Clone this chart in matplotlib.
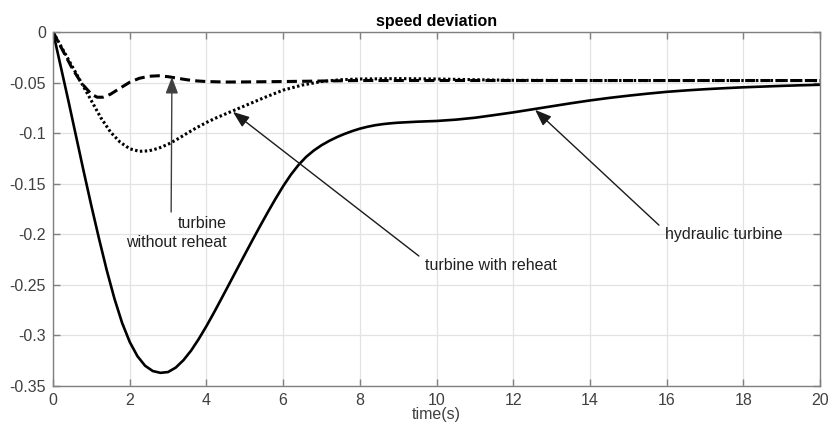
import matplotlib
matplotlib.use("Agg")
import matplotlib.pyplot as plt

plt.rcParams['font.family'] = ['Liberation Sans', 'DejaVu Sans']
plt.rcParams['axes.unicode_minus'] = False

# hydraulic turbine (solid)
t_hyd = [0.0, 0.2, 0.4, 0.6, 0.8, 1.0, 1.2, 1.4, 1.6, 1.8, 2.0, 2.2, 2.4, 2.6, 2.8,
         3.0, 3.2, 3.4, 3.6, 3.8, 4.0, 4.2, 4.4, 4.6, 4.8, 5.0, 5.2, 5.4, 5.6, 5.8,
         6.0, 6.2, 6.4, 6.6, 6.8, 7.0, 7.2, 7.4, 7.6, 7.8, 8.0, 8.2, 8.4, 8.6, 8.8,
         9.0, 9.5, 10.0, 10.5, 11.0, 11.5, 12.0, 12.5, 13.0, 13.5, 14.0, 14.5, 15.0,
         15.5, 16.0, 16.5, 17.0, 17.5, 18.0, 18.5, 19.0, 19.5, 20.0]
y_hyd = [0.0, -0.034, -0.068, -0.103, -0.138, -0.172, -0.2045, -0.2355, -0.2635, -0.2875,
         -0.3065, -0.3205, -0.3300, -0.3352, -0.3370,
         -0.3362, -0.3318, -0.3245, -0.3150, -0.3035, -0.2908, -0.2772, -0.2630, -0.2487,
         -0.2343, -0.2200, -0.2058, -0.1918, -0.1782, -0.1650,
         -0.1525, -0.1412, -0.1315, -0.1235, -0.1172, -0.1120, -0.1077, -0.1040, -0.1008,
         -0.0980, -0.0956, -0.0937, -0.0922, -0.0911, -0.0903,
         -0.0897, -0.0887, -0.0880, -0.0867, -0.0848, -0.0822, -0.0795, -0.0765, -0.0735,
         -0.0705, -0.0677, -0.0652, -0.0630,
         -0.0610, -0.0592, -0.0578, -0.0566, -0.0556, -0.0547, -0.0540, -0.0533, -0.0527,
         -0.0522]

# turbine without reheat (dashed)
t_nr = [0, 0.25, 0.5, 0.75, 1.0, 1.15, 1.3, 1.5, 1.75, 2.0, 2.25, 2.5, 2.75, 3.0, 3.25,
        3.5, 3.75, 4.0, 4.5, 5, 6, 7, 8, 10, 12, 14, 16, 18, 20]
y_nr = [0, -0.018, -0.036, -0.051, -0.0615, -0.0645, -0.0645, -0.0615, -0.0555, -0.0497,
        -0.0458, -0.0438, -0.0433, -0.0442, -0.0458, -0.0473, -0.0484, -0.0490, -0.0495,
        -0.0494, -0.0490, -0.0485, -0.0480, -0.0480, -0.0480, -0.0480, -0.0480, -0.0480,
        -0.0480]

# turbine with reheat (dotted)
t_rh = [0, 0.25, 0.5, 0.75, 1.0, 1.25, 1.5, 1.75, 2.0, 2.25, 2.5, 2.75, 3.0, 3.25, 3.5,
        3.75, 4.0, 4.25, 4.5, 4.75, 5.0, 5.5, 6.0, 6.5, 7.0, 7.5, 8.0, 9.0, 10, 11, 12, 14,
        16, 18, 20]
y_rh = [0, -0.017, -0.034, -0.051, -0.068, -0.085, -0.099, -0.109, -0.1155, -0.118,
        -0.1175, -0.115, -0.111, -0.1058, -0.1000, -0.0945, -0.0895, -0.0850, -0.0810,
        -0.0770, -0.0730, -0.0650, -0.0575, -0.0525, -0.0490, -0.0472, -0.0465, -0.0461,
        -0.0465, -0.0472, -0.0478, -0.0480, -0.0480, -0.0480, -0.0480]

x_ticks = [0, 2, 4, 6, 8, 10, 12, 14, 16, 18, 20]
y_ticks = [0, -0.05, -0.1, -0.15, -0.2, -0.25, -0.3, -0.35]
y_tick_labels = ['0', '-0.05', '-0.1', '-0.15', '-0.2', '-0.25', '-0.3', '-0.35']

fig = plt.figure(figsize=(8.3, 4.32), dpi=100)
ax = fig.add_axes([0.0639, 0.1065, 0.9241, 0.8195])

ax.plot(t_hyd, y_hyd, color='black', lw=1.9, solid_joinstyle='round')
ax.plot(t_nr, y_nr, color='black', lw=2.2, dashes=(3.3, 1.7), dash_capstyle='butt')
ax.plot(t_rh, y_rh, color='black', lw=2.2, dashes=(0.8, 0.8), dash_capstyle='butt')

ax.set_xlim(0, 20)
ax.set_ylim(-0.35, 0)
ax.set_xticks(x_ticks)
ax.set_xticklabels([str(v) for v in x_ticks])
ax.set_yticks(y_ticks)
ax.set_yticklabels(y_tick_labels)
ax.grid(True, color='#e3e3e3', lw=0.9)
ax.set_axisbelow(True)
for s in ax.spines.values():
    s.set_color('#808080')
    s.set_linewidth(1.0)
ax.tick_params(direction='in', length=5, width=1.0, color='#808080', labelcolor='#404040',
               labelsize=11.5, top=True, right=True, pad=5)
ax.set_title('speed deviation', fontsize=11.5, fontweight='bold', pad=4)
ax.set_xlabel('time(s)', fontsize=11.5, color='#404040', labelpad=-1)

arrow_kw = dict(arrowstyle='-|>,head_length=1.0,head_width=0.38', lw=1.0,
                shrinkA=0, shrinkB=0)
ax.annotate('', xy=(3.1, -0.0445), xytext=(3.08, -0.178),
            arrowprops=dict(color='#404040', **arrow_kw))
ax.annotate('', xy=(4.69, -0.079), xytext=(9.54, -0.2215),
            arrowprops=dict(color='#1a1a1a', **arrow_kw))
ax.annotate('', xy=(12.57, -0.077), xytext=(15.80, -0.191),
            arrowprops=dict(color='#1a1a1a', **arrow_kw))

ax.text(4.54, -0.199, 'turbine\nwithout reheat', ha='right', va='center', fontsize=11.5,
        color='#202020', linespacing=1.3)
ax.text(9.70, -0.2305, 'turbine with reheat', ha='left', va='center', fontsize=11.5,
        color='#202020')
ax.text(15.95, -0.2, 'hydraulic turbine', ha='left', va='center', fontsize=11.5,
        color='#202020')

fig.savefig('out.png', dpi=100)
